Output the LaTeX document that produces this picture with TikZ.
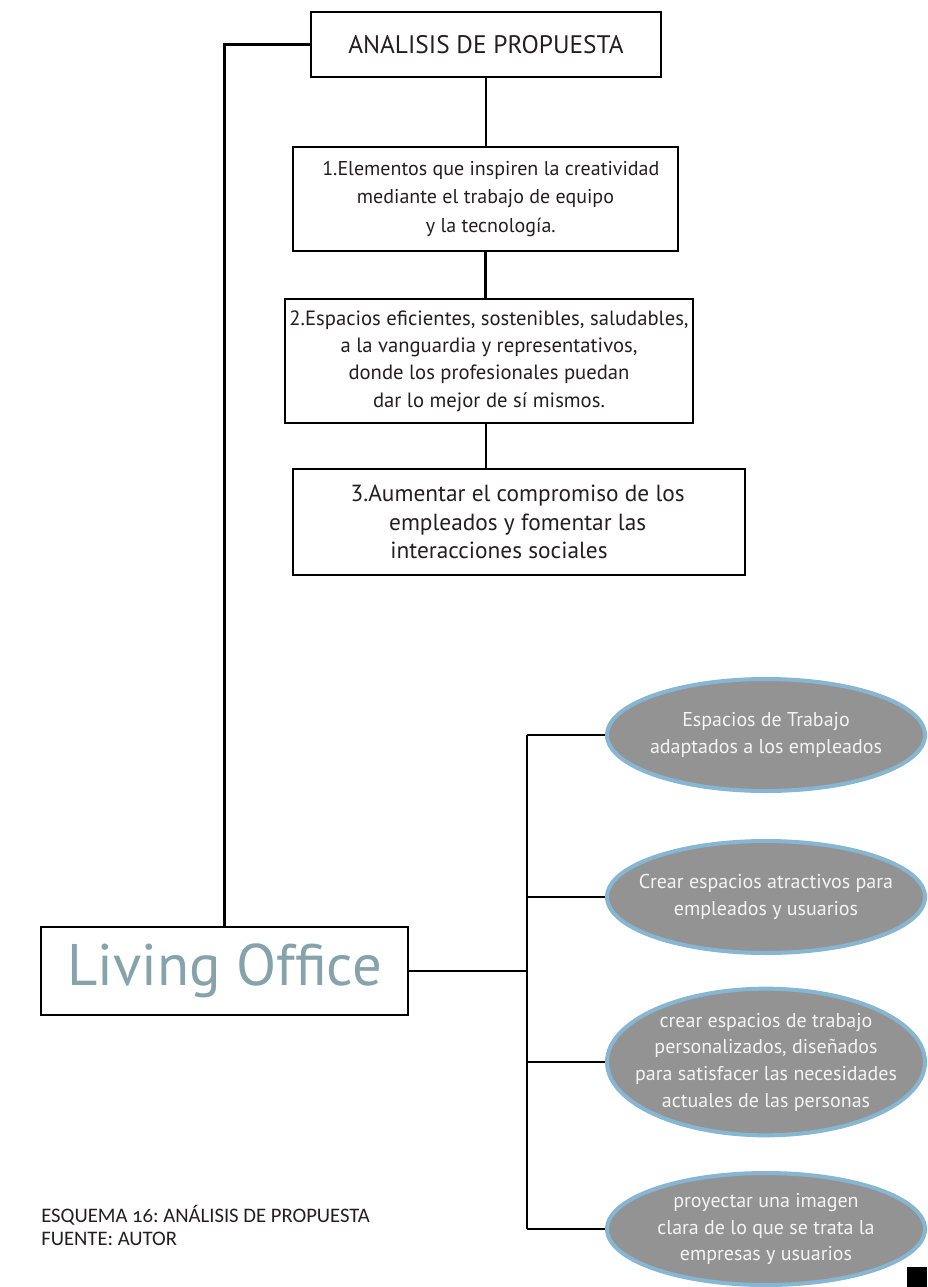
\documentclass[tikz,border=0pt]{standalone}
\usepackage{fontspec}
\setmainfont{PT Sans}
\newfontfamily\capfont[Numbers=OldStyle]{Carlito}
\usetikzlibrary{shapes.geometric}
\definecolor{txt}{HTML}{231F20}
\definecolor{livc}{HTML}{86A2AA}
\definecolor{ellfill}{HTML}{939393}
\definecolor{ellbord}{HTML}{86B6D2}
\definecolor{elltxt}{HTML}{F4F4F4}
\tikzset{
  boxnode/.style={draw=black, line width=1.6pt, rectangle, inner sep=0pt, align=center, text=txt},
  ovalnode/.style={ellipse, draw=ellbord, fill=ellfill, line width=3pt, inner sep=0pt, minimum width=238.5pt},
  ovaltext/.style={inner sep=0pt, align=center, text=elltxt, font=\fontsize{15pt}{20pt}\selectfont},
  wire/.style={line width=2.2pt, black}
}
\begin{document}
\begin{tikzpicture}[x=0.75pt,y=-0.75pt]
\useasboundingbox (0,0) rectangle (927,1287);
% top boxes
\node[boxnode, minimum width=262.5pt, minimum height=48.75pt, font=\fontsize{19pt}{22pt}\selectfont] (top) at (486,44.5) {ANALISIS DE PROPUESTA};
\node[boxnode, minimum width=288.75pt, minimum height=78pt, font=\fontsize{15pt}{21.5pt}\selectfont] (b1) at (485.5,199)
  {\hspace*{8pt}1.Elementos que inspiren la creatividad\\mediante el trabajo de equipo\\\hspace*{8pt}y la tecnología.};
\node[boxnode, minimum width=306pt, minimum height=93pt, font=\fontsize{15.5pt}{20.5pt}\selectfont] (b2) at (489,361)
  {2.Espacios eficientes, sostenibles, saludables,\\a la vanguardia y representativos,\\donde los profesionales puedan\\dar lo mejor de sí mismos.};
\node[boxnode, minimum width=339pt, minimum height=79.5pt, font=\fontsize{17.5pt}{21.5pt}\selectfont] (b3) at (519,522)
  {\hspace*{-2pt}3.Aumentar el compromiso de los\\\hspace*{-2pt}empleados y fomentar las\\\hspace*{-30pt}interacciones sociales};
% living office
\node[boxnode, line width=2.2pt, minimum width=275.25pt, minimum height=66pt, text=livc, font=\fontsize{44pt}{48pt}\selectfont] (lo) at (224.5,971) {Living Office};
% ellipses
\node[ovalnode, minimum height=84pt] (e1) at (766,735) {};
\node[ovalnode, minimum height=84pt] (e2) at (766,897) {};
\node[ovalnode, minimum height=110pt] (e3) at (766,1062) {};
\node[ovalnode, minimum height=84pt] (e4) at (766,1229) {};
\node[ovaltext] (t1) at (e1.center) {Espacios de Trabajo\\adaptados a los empleados};
\node[ovaltext] (t2) at (e2.center) {Crear espacios atractivos para\\empleados y usuarios};
\node[ovaltext] (t3) at (e3.center) {crear espacios de trabajo\\personalizados, diseñados\\para satisfacer las necesidades\\actuales de las personas};
\node[ovaltext] (t4) at (e4.center) {proyectar una imagen\\clara de lo que se trata la\\empresas y usuarios};
% connectors
\coordinate (tk) at (527,0);
\draw[wire] (top.south) -- (top.south |- b1.north);
\draw[wire] (b1.south) -- (b1.south |- b2.north);
\draw[wire] (top.south |- b2.south) -- (top.south |- b3.north);
\draw[wire] (top.west) -| (lo.north);
\draw[wire] (lo.east) -- (lo.east -| tk);
\draw[wire] (e1.west -| tk) -- (e4.west -| tk);
\draw[wire] (e1.west -| tk) -- (e1.west);
\draw[wire] (e2.west -| tk) -- (e2.west);
\draw[wire] (e3.west -| tk) -- (e3.west);
\draw[wire] (e4.west -| tk) -- (e4.west);
% caption
\node[anchor=north west, inner sep=0pt, align=left, text=txt, font=\capfont\fontsize{15.5pt}{17pt}\selectfont\frenchspacing] (cap) at (41,1205)
  {ESQUEMA 16: ANÁLISIS DE PROPUESTA\\FUENTE: AUTOR};
% black square
\fill[black] (907,1267) rectangle (927,1287);
\end{tikzpicture}
\end{document}
